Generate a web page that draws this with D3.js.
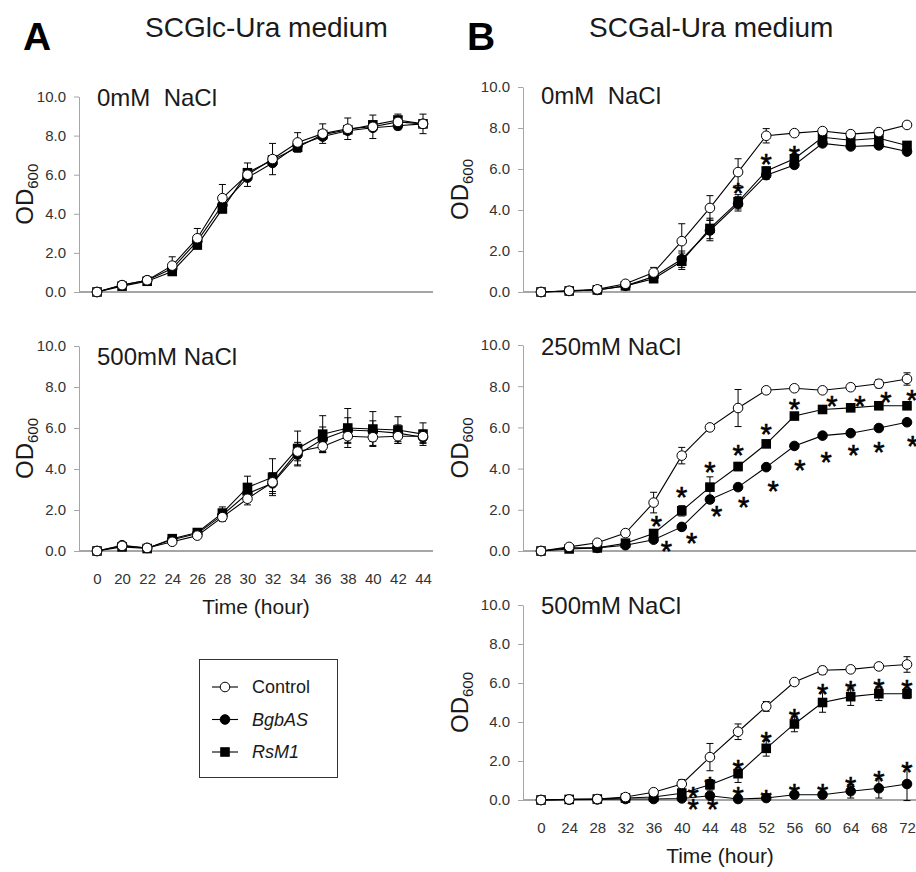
<!DOCTYPE html>
<html>
<head>
<meta charset="utf-8">
<script src="https://cdn.jsdelivr.net/npm/d3@7"></script>
<style>
body { margin: 0; background: #fff; }
text { font-family: "Liberation Sans", Arial, sans-serif; }
</style>
</head>
<body>
<svg id="fig" width="916" height="872"></svg>
<script>
// time points (hours)
var timesA = [0, 20, 22, 24, 26, 28, 30, 32, 34, 36, 38, 40, 42, 44];
var timesB = [0, 24, 28, 32, 36, 40, 44, 48, 52, 56, 60, 64, 68, 72];
var yTicks = [0, 2, 4, 6, 8, 10];

// A: SCGlc-Ura, 0mM NaCl
var ctrlA0 = [0, 0.35, 0.6, 1.35, 2.75, 4.8, 6.0, 6.8, 7.65, 8.1, 8.35, 8.45, 8.7, 8.6];
var bgbA0  = [0, 0.35, 0.6, 1.2, 2.6, 4.45, 5.85, 6.6, 7.5, 7.95, 8.25, 8.4, 8.5, 8.6];
var rsmA0  = [0, 0.3, 0.55, 1.05, 2.4, 4.25, 6.1, 6.75, 7.4, 8.05, 8.3, 8.55, 8.8, 8.6];
var errCtrlA0 = [0, 0.05, 0.1, 0.45, 0.5, 0.7, 0.6, 0.8, 0.5, 0.5, 0.55, 0.6, 0.4, 0.5];
var errBgbA0  = [0, 0, 0, 0.15, 0.15, 0.2, 0.15, 0.15, 0.15, 0.15, 0.15, 0.15, 0.1, 0.1];
var errRsmA0  = [0, 0, 0, 0.15, 0.15, 0.2, 0.15, 0.15, 0.15, 0.15, 0.15, 0.15, 0.1, 0.1];

// A: SCGlc-Ura, 500mM NaCl
var ctrlA5 = [0, 0.25, 0.15, 0.45, 0.75, 1.65, 2.55, 3.35, 4.85, 5.1, 5.6, 5.55, 5.6, 5.6];
var bgbA5  = [0, 0.28, 0.15, 0.55, 0.85, 1.75, 2.8, 3.3, 4.7, 5.45, 5.9, 5.85, 5.75, 5.55];
var rsmA5  = [0, 0.2, 0.12, 0.6, 0.9, 1.85, 3.1, 3.6, 5.0, 5.7, 6.0, 5.95, 5.9, 5.7];
var errCtrlA5 = [0, 0.05, 0.05, 0.1, 0.1, 0.2, 0.3, 0.45, 0.45, 0.3, 0.35, 0.4, 0.35, 0.3];
var errBgbA5  = [0, 0.05, 0.05, 0.1, 0.1, 0.25, 0.4, 0.5, 0.5, 0.6, 0.6, 0.5, 0.4, 0.3];
var errRsmA5  = [0, 0.05, 0.05, 0.1, 0.1, 0.3, 0.55, 0.9, 0.85, 0.9, 0.95, 0.85, 0.65, 0.55];

// B: SCGal-Ura, 0mM NaCl
var ctrlB0 = [0, 0.06, 0.13, 0.4, 0.95, 2.48, 4.1, 5.85, 7.62, 7.75, 7.85, 7.7, 7.8, 8.15];
var bgbB0  = [0, 0.05, 0.1, 0.3, 0.75, 1.6, 3.0, 4.3, 5.7, 6.2, 7.25, 7.1, 7.15, 6.85];
var rsmB0  = [0, 0.05, 0.1, 0.3, 0.65, 1.5, 3.1, 4.4, 5.9, 6.5, 7.55, 7.4, 7.5, 7.15];
var errCtrlB0 = [0, 0.02, 0.03, 0.1, 0.25, 0.85, 0.6, 0.65, 0.35, 0.1, 0.1, 0.1, 0.1, 0.1];
var errBgbB0  = [0, 0, 0, 0.05, 0.1, 0.4, 0.5, 0.35, 0.2, 0.15, 0.15, 0.1, 0.1, 0.1];
var errRsmB0  = [0, 0, 0, 0.05, 0.1, 0.4, 0.5, 0.35, 0.2, 0.15, 0.15, 0.1, 0.1, 0.1];
// significance marks: [time, shift in steps, height]
var starsB0 = [[48, 0, 5.15], [52, 0, 6.6], [56, 0, 7.0]];

// B: SCGal-Ura, 250mM NaCl
var ctrlB2 = [0, 0.2, 0.4, 0.87, 2.35, 4.63, 6.0, 6.94, 7.8, 7.9, 7.8, 7.95, 8.12, 8.35];
var bgbB2  = [0, 0.15, 0.15, 0.28, 0.55, 1.17, 2.5, 3.1, 4.07, 5.1, 5.6, 5.72, 5.97, 6.25];
var rsmB2  = [0, 0.1, 0.15, 0.38, 0.85, 1.95, 3.1, 4.1, 5.2, 6.55, 6.87, 6.95, 7.05, 7.05];
var errCtrlB2 = [0, 0.02, 0.05, 0.08, 0.5, 0.4, 0.1, 0.9, 0.1, 0.1, 0.1, 0.1, 0.2, 0.3];
var errBgbB2  = [0, 0.02, 0.03, 0.05, 0.1, 0.15, 0.15, 0.15, 0.1, 0.1, 0.1, 0.1, 0.1, 0.1];
var errRsmB2  = [0, 0.02, 0.03, 0.05, 0.1, 0.25, 0.5, 0.2, 0.15, 0.1, 0.1, 0.1, 0.1, 0.1];
var starsB2 = [
  [36, 0.1, 1.57], [40, 0, 2.95], [44, 0, 4.17], [48, 0, 4.98], [52, 0, 6.03],
  [56, 0, 7.24], [60, 0.33, 7.36], [64, 0.33, 7.4], [68, 0.25, 7.57], [72, 0.17, 7.65],
  [36, 0.45, 0.36], [40, 0.35, 0.71], [44, 0.24, 2.03], [48, 0.2, 2.46], [52, 0.25, 3.27],
  [56, 0.2, 4.25], [60, 0.13, 4.65], [64, 0.1, 4.98], [68, 0, 5.14], [72, 0.2, 5.46]
];

// B: SCGal-Ura, 500mM NaCl
var ctrlB5 = [0, 0.03, 0.05, 0.15, 0.4, 0.82, 2.2, 3.5, 4.8, 6.05, 6.65, 6.7, 6.85, 6.95];
var bgbB5  = [0, 0.02, 0.03, 0.05, 0.05, 0.08, 0.22, 0.05, 0.1, 0.27, 0.27, 0.45, 0.6, 0.82];
var rsmB5  = [0, 0.03, 0.05, 0.1, 0.15, 0.35, 0.78, 1.35, 2.65, 3.9, 5.0, 5.3, 5.45, 5.45];
var errCtrlB5 = [0, 0.02, 0.02, 0.05, 0.05, 0.23, 0.7, 0.4, 0.25, 0.1, 0.2, 0.15, 0.15, 0.4];
var errBgbB5  = [0, 0.01, 0.01, 0.02, 0.02, 0.03, 0.05, 0.05, 0.05, 0.1, 0.1, 0.35, 0.5, 0.85];
var errRsmB5  = [0, 0.02, 0.02, 0.03, 0.05, 0.1, 0.27, 0.45, 0.4, 0.4, 0.5, 0.45, 0.35, 0.25];
var starsB5 = [
  [40, 0.4, 0.5], [44, 0, 1.05], [48, 0, 1.88], [52, 0, 3.33], [56, 0, 4.53],
  [60, 0, 5.81], [64, 0, 5.93], [68, 0, 6.07], [72, 0, 5.98],
  [40, 0.4, -0.12], [44, 0.1, -0.08], [48, 0, 0.51], [52, 0, 0.34], [56, 0, 0.68],
  [60, 0, 0.68], [64, 0, 1.03], [68, 0, 1.32], [72, 0, 1.8]
];

var legendNames = ["Control", "BgbAS", "RsM1"];

var axisColor = "#a6a6a6";
var inkColor = "#1a1a1a";

var svg = d3.select("#fig");

// panel layout
var panels = [
  {times: timesA, series: [bgbA0, rsmA0, ctrlA0], errs: [errBgbA0, errRsmA0, errCtrlA0], stars: [],
   xr: [97, 423], axis: [79, 433], yr: [292, 96.5], label: "0mM\u00a0\u00a0NaCl", labelDy: 9.5, xTicks: false, odX: 33},
  {times: timesA, series: [bgbA5, rsmA5, ctrlA5], errs: [errBgbA5, errRsmA5, errCtrlA5], stars: [],
   xr: [97, 423], axis: [79, 433], yr: [551, 346], label: "500mM NaCl", labelDy: 19, xTicks: true, odX: 33},
  {times: timesB, series: [bgbB0, rsmB0, ctrlB0], errs: [errBgbB0, errRsmB0, errCtrlB0], stars: starsB0,
   xr: [541, 907], axis: [523, 916], yr: [292, 87], label: "0mM\u00a0\u00a0NaCl", labelDy: 17, xTicks: false, odX: 468},
  {times: timesB, series: [bgbB2, rsmB2, ctrlB2], errs: [errBgbB2, errRsmB2, errCtrlB2], stars: starsB2,
   xr: [541, 907], axis: [523, 916], yr: [551, 345], label: "250mM NaCl", labelDy: 10, xTicks: false, odX: 468},
  {times: timesB, series: [bgbB5, rsmB5, ctrlB5], errs: [errBgbB5, errRsmB5, errCtrlB5], stars: starsB5,
   xr: [541, 907], axis: [523, 916], yr: [800, 605], label: "500mM NaCl", labelDy: 9, xTicks: true, odX: 468}
];
// marker type per series slot: BgbAS, RsM1, Control
var shapes = ["dot", "square", "ring"];

function marker(sel, shape, cx, cy) {
  if (shape === "square") {
    sel.append("rect").attr("x", cx - 4.8).attr("y", cy - 4.8)
      .attr("width", 9.6).attr("height", 9.6).attr("fill", "#000");
  } else {
    sel.append("circle").attr("cx", cx).attr("cy", cy).attr("r", 4.8)
      .attr("fill", shape === "ring" ? "#fff" : "#000")
      .attr("stroke", "#000").attr("stroke-width", 1);
  }
}

panels.forEach(function(p) {
  var g = svg.append("g");
  var x = d3.scalePoint().domain(p.times).range(p.xr);
  var y = d3.scaleLinear().domain([0, 10]).range(p.yr);

  // y axis
  var ya = g.append("g")
    .attr("transform", `translate(${p.axis[0]},0)`)
    .call(d3.axisLeft(y).tickValues(yTicks).tickFormat(d3.format(".1f"))
      .tickSize(5).tickSizeOuter(0).tickPadding(8));
  ya.select(".domain").attr("stroke", axisColor);
  ya.selectAll(".tick line").attr("stroke", axisColor);
  ya.selectAll(".tick text").attr("fill", "#333").style("font-size", "15px")
    .style("font-family", "'Liberation Sans', Arial, sans-serif");

  // x axis baseline
  g.append("line")
    .attr("x1", p.axis[0]).attr("x2", p.axis[1])
    .attr("y1", y(0)).attr("y2", y(0))
    .attr("stroke", axisColor).attr("stroke-width", 1.8);

  if (p.xTicks) {
    var xa = g.append("g")
      .attr("transform", `translate(0,${y(0)})`)
      .call(d3.axisBottom(x).tickSize(0).tickPadding(22));
    xa.select(".domain").remove();
    xa.selectAll(".tick text").attr("fill", "#333").style("font-size", "15px")
      .style("font-family", "'Liberation Sans', Arial, sans-serif");
    g.append("text")
      .attr("x", (p.xr[0] + p.xr[1]) / 2 - 4)
      .attr("y", y(0) + 63)
      .attr("text-anchor", "middle")
      .attr("fill", inkColor)
      .style("font-size", "21px")
      .text("Time (hour)");
  }

  // y label OD600
  var od = g.append("text")
    .attr("transform", `translate(${p.odX},${(p.yr[0] + p.yr[1]) / 2}) rotate(-90)`)
    .attr("text-anchor", "middle")
    .attr("fill", inkColor)
    .style("font-size", "24px");
  od.append("tspan").text("OD");
  od.append("tspan").attr("dy", 5).style("font-size", "15px").text("600");

  // panel label
  g.append("text")
    .attr("x", p.xr[0]).attr("y", y(10) + p.labelDy)
    .attr("fill", inkColor)
    .style("font-size", "24px")
    .text(p.label);

  // error bars
  p.series.forEach(function(vals, s) {
    var errs = p.errs[s];
    vals.forEach(function(v, i) {
      var e = errs[i];
      if (e < 0.05) return;
      var cx = x(p.times[i]);
      g.append("line").attr("x1", cx).attr("x2", cx)
        .attr("y1", y(v - e)).attr("y2", y(v + e))
        .attr("stroke", "#000").attr("stroke-width", 1);
      [v - e, v + e].forEach(function(t) {
        g.append("line").attr("x1", cx - 3.5).attr("x2", cx + 3.5)
          .attr("y1", y(t)).attr("y2", y(t))
          .attr("stroke", "#000").attr("stroke-width", 1);
      });
    });
  });

  // lines
  var line = d3.line()
    .x(function(d, i) { return x(p.times[i]); })
    .y(function(d) { return y(d); });
  p.series.forEach(function(vals) {
    g.append("path").attr("d", line(vals))
      .attr("fill", "none").attr("stroke", "#000").attr("stroke-width", 1.1);
  });

  // markers
  p.series.forEach(function(vals, s) {
    vals.forEach(function(v, i) {
      marker(g, shapes[s], x(p.times[i]), y(v));
    });
  });

  // asterisks
  p.stars.forEach(function(st) {
    g.append("text")
      .attr("x", x(st[0]) + st[1] * x.step())
      .attr("y", y(st[2]) + 17)
      .attr("text-anchor", "middle")
      .attr("fill", "#000")
      .attr("stroke", "#000").attr("stroke-width", 0.6)
      .style("font-size", "29px")
      .text("*");
  });
});

// panel letters and titles
[["A", 23], ["B", 467]].forEach(function(d) {
  svg.append("text").attr("x", d[1]).attr("y", 50)
    .attr("fill", "#000").style("font-size", "39px").style("font-weight", "bold")
    .text(d[0]);
});
[["SCGlc-Ura medium", 145], ["SCGal-Ura medium", 589]].forEach(function(d) {
  svg.append("text").attr("x", d[1]).attr("y", 37)
    .attr("fill", inkColor).style("font-size", "28px")
    .text(d[0]);
});

// legend
var lg = svg.append("g");
lg.append("rect").attr("x", 199.5).attr("y", 659.5).attr("width", 138).attr("height", 118)
  .attr("fill", "none").attr("stroke", "#333").attr("stroke-width", 1);
var legendShapes = ["ring", "dot", "square"];
legendNames.forEach(function(name, i) {
  var cy = 687 + i * 32.5;
  lg.append("line").attr("x1", 212).attr("x2", 238).attr("y1", cy).attr("y2", cy)
    .attr("stroke", "#000").attr("stroke-width", 1.1);
  marker(lg, legendShapes[i], 225, cy);
  lg.append("text").attr("x", 252).attr("y", cy).attr("dy", "0.35em")
    .attr("fill", inkColor).style("font-size", "18px")
    .style("font-style", i === 0 ? "normal" : "italic")
    .text(name);
});
</script>
</body>
</html>
